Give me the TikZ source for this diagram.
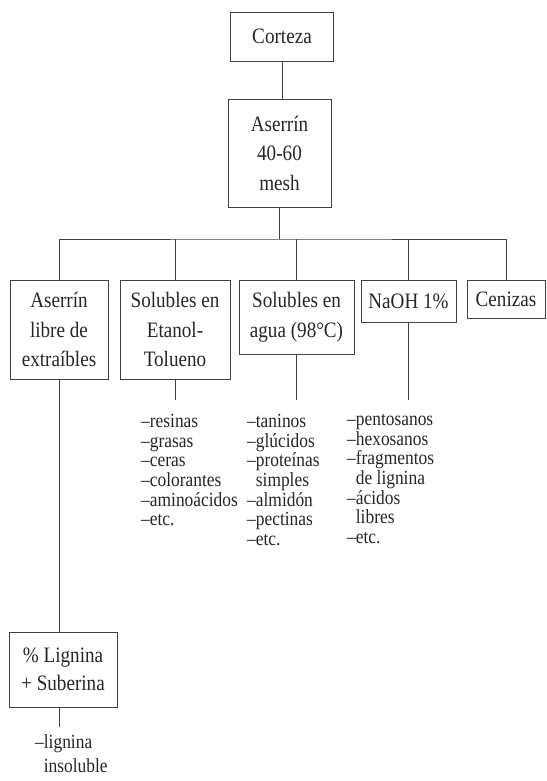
\documentclass[tikz,border=0pt]{standalone}
\usepackage{fontspec}
\setmainfont{Liberation Serif}
\newfontfamily\estrecha{Liberation Serif}[FakeStretch=0.87, Ligatures=TeX]
\usetikzlibrary{positioning}

\begin{document}
\begin{tikzpicture}[x=1pt, y=-1pt,
    caja/.style={draw=black!75, line width=0.9pt, inner sep=0pt, align=center,
      text=black!85, font=\estrecha\fontsize{22}{29.5}\selectfont},
    lista/.style={anchor=north west, inner sep=0pt, align=left,
      text=black!85, font=\estrecha\fontsize{20}{19.7}\selectfont},
    linea/.style={black!75, line width=0.9pt}]
    \useasboundingbox (0,0) rectangle (546,781);

    % Top of the tree
    \node[caja, minimum width=103, minimum height=49] (corteza) at (282,36.5) {Corteza};
    \node[caja, minimum width=103, minimum height=108] (aserrin) at (279.5,153) {Aserrín\\40-60\\mesh};
    \draw[linea] (corteza) -- (corteza.south |- aserrin.north);

    % Fractions
    \node[caja, minimum width=98, minimum height=99] (libre) at (59,329.5) {Aserrín\\libre de\\extraíbles};
    \node[caja, minimum width=110, minimum height=99] (etanol) at (175,329.5) {Solubles en\\Etanol-\\Tolueno};
    \node[caja, minimum width=115, minimum height=74] (agua) at (296.5,317) {Solubles en\\agua (98°C)};
    \node[caja, minimum width=95, minimum height=42] (naoh) at (408.5,301) {NaOH 1\%};
    \node[caja, minimum width=78, minimum height=38] (cenizas) at (506,299) {Cenizas};

    % Branches
    \coordinate (barra) at (279.5,239);
    \draw[linea] (aserrin) -- (barra);
    \draw[linea] (libre.north) |- (barra) -| (cenizas.north);
    \draw[linea] (etanol.north) -- (etanol.north |- barra);
    \draw[linea] (agua.north) -- (agua.north |- barra);
    \draw[linea] (naoh.north) -- (naoh.north |- barra);

    % Lists of compounds
    \coordinate (fin) at (0,400);
    \draw[linea] (etanol) -- (etanol.south |- fin);
    \draw[linea] (agua) -- (agua.south |- fin);
    \draw[linea] (naoh) -- (naoh.south |- fin);
    \node[lista] (lEtanol) at (141,414) {--resinas\\--grasas\\--ceras\\--colorantes\\--aminoácidos\\--etc.};
    \node[lista] (lAgua) at (247,414) {--taninos\\--glúcidos\\--proteínas\\\phantom{--}simples\\--almidón\\--pectinas\\--etc.};
    \node[lista] (lNaoh) at (347,414) {--pentosanos\\--hexosanos\\--fragmentos\\\phantom{--}de lignina\\--ácidos\\\phantom{--}libres\\--etc.};

    % Lignin
    \node[caja, minimum width=108, minimum height=75, font=\estrecha\fontsize{22}{28}\selectfont] (lignina) at (63,669.5) {\% Lignina\\+ Suberina};
    \draw[linea] (libre) -- (libre.south |- lignina.north);
    \coordinate (finlig) at (0,727);
    \draw[linea] (libre.south |- lignina.south) -- (libre.south |- finlig);
    \node[lista, font=\estrecha\fontsize{20}{24}\selectfont] (lLignina) at (35,734) {--lignina\\\phantom{--}insoluble};
  \end{tikzpicture}
\end{document}
